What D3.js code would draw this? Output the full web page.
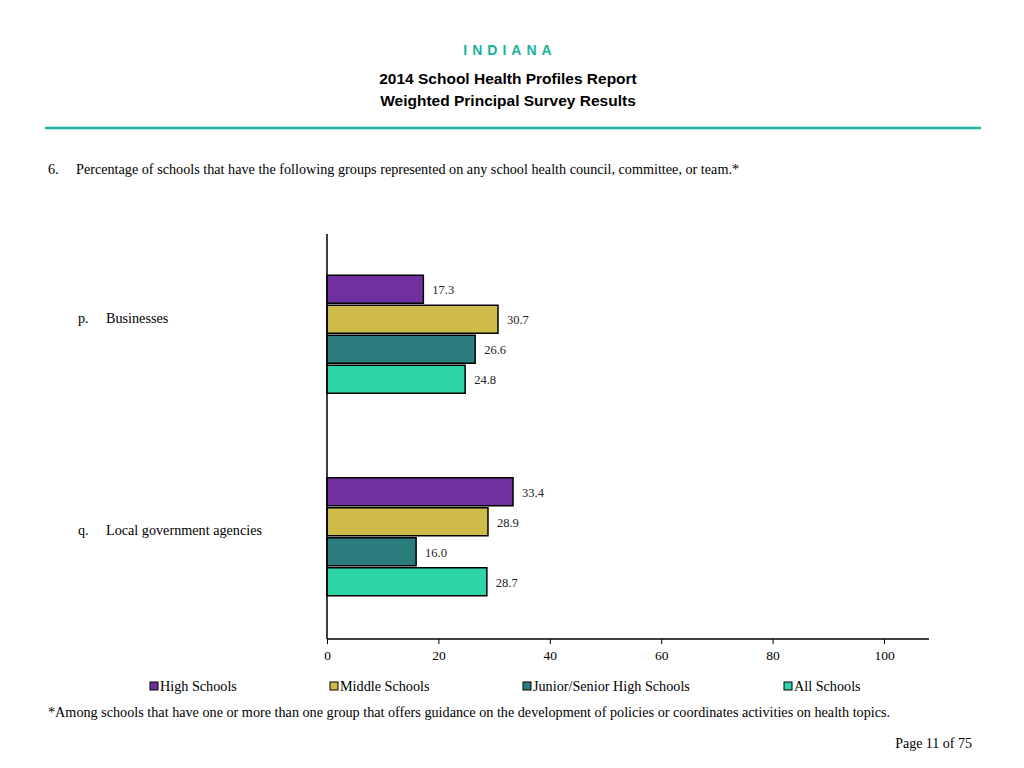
<!DOCTYPE html>
<html><head><meta charset="utf-8">
<script src="https://cdn.jsdelivr.net/npm/d3@7"></script>
<style>body{margin:0;background:#fff}svg{display:block}</style>
</head><body>
<svg id="c" width="1024" height="768"></svg>
<script>
const categories = ["Businesses", "Local government agencies"];
const letters = ["p.", "q."];
const series = ["High Schools", "Middle Schools", "Junior/Senior High Schools", "All Schools"];
const highSchools = [17.3, 33.4];
const middleSchools = [30.7, 28.9];
const juniorSenior = [26.6, 16.0];
const allSchools = [24.8, 28.7];
const xTicks = [0, 20, 40, 60, 80, 100];
const colors = ["#7030A0", "#CFBC48", "#2B7C7C", "#2ED3A8"];

const values = [highSchools, middleSchools, juniorSenior, allSchools];
const svg = d3.select("#c");
const serif = "'Liberation Serif','Times New Roman',serif";
const sans = "'Liberation Sans',Arial,sans-serif";
const fs = 14.2;

// Header
svg.append("text").attr("x", 510).attr("y", 55).attr("text-anchor", "middle")
  .attr("font-family", sans).attr("font-weight", "bold").attr("font-size", 14)
  .attr("letter-spacing", 5).attr("fill", "#1BB39B").text("INDIANA");
svg.append("text").attr("x", 508).attr("y", 84).attr("text-anchor", "middle")
  .attr("font-family", sans).attr("font-weight", "bold").attr("font-size", 15.5)
  .attr("fill", "#000").text("2014 School Health Profiles Report");
svg.append("text").attr("x", 508).attr("y", 106).attr("text-anchor", "middle")
  .attr("font-family", sans).attr("font-weight", "bold").attr("font-size", 15.5)
  .attr("fill", "#000").text("Weighted Principal Survey Results");
svg.append("line").attr("x1", 45).attr("x2", 981).attr("y1", 128).attr("y2", 128)
  .attr("stroke", "#1BB3A6").attr("stroke-width", 2.5);

svg.append("text").attr("x", 48).attr("y", 174).attr("font-family", serif).attr("font-size", fs).text("6.");
svg.append("text").attr("x", 76).attr("y", 174).attr("font-family", serif).attr("font-size", fs)
  .text("Percentage of schools that have the following groups represented on any school health council, committee, or team.*");

// Chart
const x = d3.scaleLinear().domain([0, 100]).range([327, 884]);
const y = d3.scaleBand().domain(categories).range([234, 639]);
const barStep = 30, barH = 28;

const g = svg.append("g");
categories.forEach((cat, ci) => {
  const cy = y(cat) + y.bandwidth() / 2;
  series.forEach((s, si) => {
    const v = values[si][ci];
    const top = cy - 2 * barStep + si * barStep;
    g.append("rect").attr("x", x(0)).attr("y", top).attr("width", x(v) - x(0)).attr("height", barH)
      .attr("fill", colors[si]).attr("stroke", "#000").attr("stroke-width", 1.5);
    g.append("text").attr("x", x(v) + 9).attr("y", top + barH / 2 + 5)
      .attr("font-family", serif).attr("font-size", 12.5).attr("fill", "#222").text(v.toFixed(1));
  });
  const ly = cy + (ci === 0 ? -12 : -3);
  svg.append("text").attr("x", 78).attr("y", ly).attr("font-family", serif).attr("font-size", fs).text(letters[ci]);
  svg.append("text").attr("x", 106).attr("y", ly).attr("font-family", serif).attr("font-size", fs).text(cat);
});

// Axes
svg.append("line").attr("x1", 327).attr("x2", 327).attr("y1", 234).attr("y2", 639)
  .attr("stroke", "#000").attr("stroke-width", 1.5);
const xAxis = svg.append("g").attr("transform", "translate(0,639)")
  .call(d3.axisBottom(x).tickValues(xTicks).tickSize(5).tickPadding(6).tickFormat(d3.format("d")));
xAxis.select(".domain").remove();
xAxis.append("line").attr("x1", 327).attr("x2", 929).attr("stroke", "#000").attr("stroke-width", 1.5);
xAxis.selectAll(".tick line").attr("stroke", "#000").attr("stroke-width", 1);
xAxis.selectAll(".tick text").attr("font-family", serif).attr("font-size", 13.5).attr("fill", "#000");

// Legend
const legX = [150, 330, 523, 784];
series.forEach((s, i) => {
  svg.append("rect").attr("x", legX[i]).attr("y", 682).attr("width", 8).attr("height", 8)
    .attr("fill", colors[i]).attr("stroke", "#000").attr("stroke-width", 1);
  svg.append("text").attr("x", legX[i] + 10).attr("y", 691).attr("font-family", serif).attr("font-size", fs).text(s);
});

svg.append("text").attr("x", 48).attr("y", 717).attr("font-family", serif).attr("font-size", fs)
  .text("*Among schools that have one or more than one group that offers guidance on the development of policies or coordinates activities on health topics.");
svg.append("text").attr("x", 972).attr("y", 748).attr("text-anchor", "end").attr("font-family", serif).attr("font-size", 14)
  .text("Page 11 of 75");
</script>
</body></html>
